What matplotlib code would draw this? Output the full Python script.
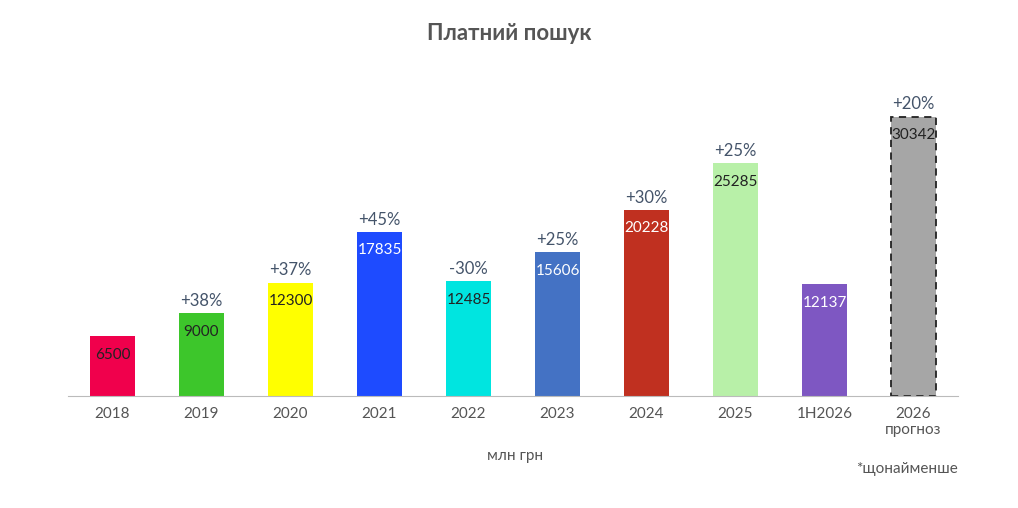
import matplotlib
matplotlib.use("Agg")
import matplotlib.pyplot as plt

categories = ["2018", "2019", "2020", "2021", "2022", "2023", "2024", "2025", "1H2026", "2026\nпрогноз"]
values = [6500, 9000, 12300, 17835, 12485, 15606, 20228, 25285, 12137, 30342]
growth = ["", "+38%", "+37%", "+45%", "-30%", "+25%", "+30%", "+25%", "", "+20%"]
colors = ['#F0004C', '#3DC62B', '#FFFF00', '#1E4BFF', '#00E5E0', '#4472C4',
          '#C03020', '#B8F0A8', '#7E57C2', '#A6A6A6']
text_colors = ['#222', '#222', '#222', 'white', '#222', 'white', 'white', '#222', 'white', '#222']

plt.rcParams['font.family'] = ['Lato', 'DejaVu Sans']
fig = plt.figure(figsize=(10.18, 5.08), dpi=100)
ax = fig.add_axes([68/1018, (508-396)/508, 890/1018, 326/508])
x = range(len(values))
bars = ax.bar(x, values, width=0.5, color=colors)
bars[-1].set_edgecolor('#222')
bars[-1].set_linestyle((0, (4, 3)))
bars[-1].set_linewidth(1.3)
ax.set_ylim(0, 35440)
ax.set_xlim(-0.5, len(values) - 0.5)
for i, v in enumerate(values):
    ax.text(i, v - 2000, str(v), ha='center', va='center', fontsize=11, color=text_colors[i])
    if growth[i]:
        ax.text(i, v + 1350, growth[i], ha='center', va='center', fontsize=12, color='#44546A')
ax.set_xticks(list(x))
ax.set_xticklabels(categories, fontsize=11, color='#555')
ax.tick_params(axis='x', length=0, pad=8)
ax.set_yticks([])
for s in ['top', 'right', 'left']:
    ax.spines[s].set_visible(False)
ax.spines['bottom'].set_color('#BBBBBB')
fig.text(0.5, 1 - 33/508, "Платний пошук", ha='center', va='center', fontsize=16,
         fontweight='bold', color='#555555')
fig.text(515/1018, 1 - 456/508, "млн грн", ha='center', va='center', fontsize=11, color='#555')
fig.text(958/1018, 1 - 469/508, "*щонайменше", ha='right', va='center', fontsize=11, color='#555')
fig.savefig("out.png", dpi=100)
